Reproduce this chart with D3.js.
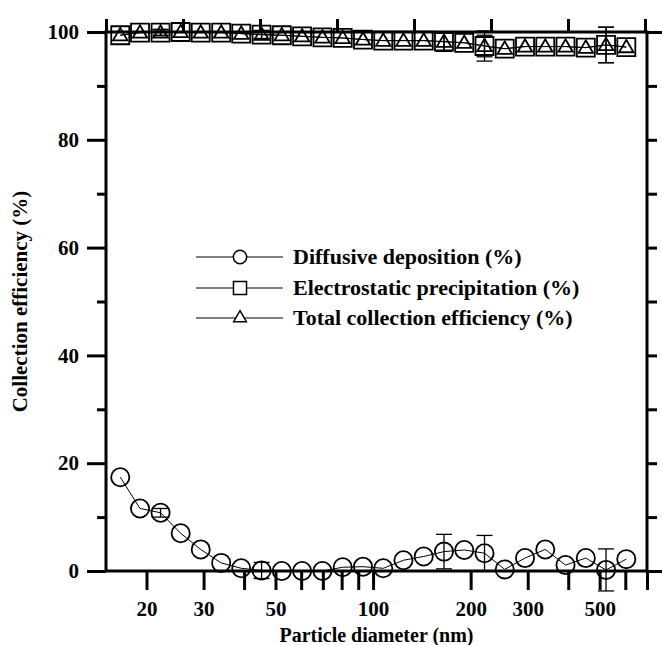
<!DOCTYPE html>
<html>
<head>
<meta charset="utf-8">
<script src="https://cdn.jsdelivr.net/npm/d3@7"></script>
<style>
  body { margin: 0; background: #ffffff; }
  svg { display: block; font-family: "Liberation Serif", "Times New Roman", serif; font-weight: bold; }
</style>
</head>
<body>
<div id="chart"></div>
<script>
// particle diameters (nm), one per size channel
const diameters = [16.6, 19.1, 22.1, 25.5, 29.4, 34.0, 39.2, 45.3, 52.3, 60.4, 69.8, 80.6, 93.1,
  107.5, 124.1, 143.3, 165.5, 191.1, 220.7, 254.8, 294.3, 339.8, 392.4, 453.2, 523.3, 604.3];

const diffusive = [17.4, 11.6, 10.8, 7.0, 4.0, 1.5, 0.5, 0.1, 0.0, 0.0, 0.0, 0.7, 0.8,
  0.5, 2.0, 2.7, 3.6, 3.9, 3.3, 0.3, 2.4, 4.0, 1.1, 2.4, 0.2, 2.2];
const diffusiveErr = [0, 0, 0.8, 0, 0, 0, 0, 1.5, 0, 0, 0, 0, 0,
  0, 0, 0, 3.2, 0, 3.3, 0, 0, 0, 0, 0, 3.9, 0];

const electrostatic = [99.4, 99.9, 99.9, 100.0, 99.9, 99.9, 99.7, 99.5, 99.4, 99.2, 99.0, 98.9, 98.6,
  98.4, 98.4, 98.4, 98.2, 98.0, 97.4, 96.9, 97.3, 97.3, 97.3, 97.1, 97.6, 97.2];
const electrostaticErr = [0, 0, 0.6, 0, 0, 0, 0, 0.8, 0, 0, 0, 0, 0,
  0, 0, 0, 1.8, 0, 2.8, 0, 0, 0, 0, 0, 3.3, 0];

const total = [99.4, 99.9, 99.9, 100.0, 99.9, 99.9, 99.7, 99.5, 99.4, 99.2, 99.0, 98.9, 98.6,
  98.4, 98.4, 98.4, 98.2, 98.0, 97.4, 96.9, 97.3, 97.3, 97.3, 97.1, 97.6, 97.2];
const totalErr = [0, 0, 0.5, 0, 0, 0, 0, 0.7, 0, 0, 0, 0, 0,
  0, 0, 0, 1.6, 0, 2.0, 0, 0, 0, 0, 0, 3.3, 0];

const seriesNames = ["Diffusive deposition (%)", "Electrostatic precipitation (%)", "Total collection efficiency (%)"];

const xTicks = [20, 30, 40, 50, 60, 70, 80, 90, 100, 200, 300, 400, 500, 600, 700];
const xTickLabels = [20, 30, 50, 100, 200, 300, 500];
const yTicks = [0, 10, 20, 30, 40, 50, 60, 70, 80, 90, 100];
const yTickLabels = [0, 20, 40, 60, 80, 100];

const width = 662;
const height = 645;
const margin = { top: 32, right: 15, bottom: 74, left: 106 };

const svg = d3.select("#chart")
  .append("svg")
  .attr("width", width)
  .attr("height", height);

const x = d3.scaleLog()
  .domain([15, 700])
  .range([margin.left, width - margin.right]);

const y = d3.scaleLinear()
  .domain([0, 100])
  .range([height - margin.bottom, margin.top]);

const x0 = x.range()[0], x1 = x.range()[1];
const y0 = y.range()[0], y1 = y.range()[1];

// axes, thick Origin style
const styleAxis = (g) => {
  g.select(".domain").remove();
  g.selectAll(".tick line").attr("stroke", "#000").attr("stroke-width", 3);
  g.selectAll(".tick text")
    .attr("fill", "#000")
    .style("font-size", "21px")
    .style("font-weight", "bold")
    .style("font-family", "'Liberation Serif', 'Times New Roman', serif");
};

const bottomAxis = svg.append("g")
  .attr("transform", `translate(0,${y0})`)
  .call(d3.axisBottom(x)
    .tickValues(xTicks)
    .tickSize(19)
    .tickPadding(11)
    .tickFormat((d) => (xTickLabels.includes(d) ? d : "")));
styleAxis(bottomAxis);

// top axis: plain linear ticks, no labels
const xTop = d3.scaleLinear().domain([0, 7]).range([x0, x1 - 2]);
const topAxis = svg.append("g")
  .attr("transform", `translate(0,${y1})`)
  .call(d3.axisTop(xTop).ticks(7).tickSize(13).tickFormat(""));
styleAxis(topAxis);

const leftAxis = svg.append("g")
  .attr("transform", `translate(${x0},0)`)
  .call(d3.axisLeft(y)
    .tickValues(yTicks)
    .tickSize(19)
    .tickPadding(8)
    .tickFormat((d) => (yTickLabels.includes(d) ? d : "")));
styleAxis(leftAxis);
leftAxis.selectAll(".tick")
  .filter((d) => !yTickLabels.includes(d))
  .select("line")
  .attr("x2", -9);

const rightAxis = svg.append("g")
  .attr("transform", `translate(${x1},0)`)
  .call(d3.axisRight(y).tickValues(yTicks).tickSize(10).tickFormat(""));
styleAxis(rightAxis);
rightAxis.selectAll(".tick")
  .filter((d) => d === 0 || d === 100)
  .select("line")
  .attr("x2", 16);

// frame
svg.append("rect")
  .attr("x", x0)
  .attr("y", y1)
  .attr("width", x1 - x0)
  .attr("height", y0 - y1)
  .attr("fill", "none")
  .attr("stroke", "#000")
  .attr("stroke-width", 3);

// axis titles
svg.append("text")
  .attr("x", (x0 + x1) / 2)
  .attr("y", 642)
  .attr("text-anchor", "middle")
  .style("font-size", "20px")
  .text("Particle diameter (nm)");

svg.append("text")
  .attr("transform", `translate(27,${(y0 + y1) / 2}) rotate(-90)`)
  .attr("text-anchor", "middle")
  .style("font-size", "21px")
  .text("Collection efficiency (%)");

const series = [
  { name: seriesNames[0], values: diffusive, errors: diffusiveErr, symbol: d3.symbolCircle, size: 260, legendSize: 140 },
  { name: seriesNames[1], values: electrostatic, errors: electrostaticErr, symbol: d3.symbolSquare, size: 324, legendSize: 170 },
  { name: seriesNames[2], values: total, errors: totalErr, symbol: d3.symbolTriangle, size: 90, legendSize: 70 },
];

const line = d3.line()
  .x((d) => x(d[0]))
  .y((d) => y(d[1]));

const plot = svg.append("g");

series.forEach((s) => {
  const pts = diameters.map((d, i) => [d, s.values[i], s.errors[i]]);

  plot.append("path")
    .datum(pts)
    .attr("d", line)
    .attr("fill", "none")
    .attr("stroke", "#000")
    .attr("stroke-width", 1);

  const bars = plot.selectAll(null)
    .data(pts.filter((p) => p[2] > 0))
    .enter()
    .append("g")
    .attr("stroke", "#000")
    .attr("stroke-width", 1.3);

  bars.append("line")
    .attr("x1", (p) => x(p[0]))
    .attr("x2", (p) => x(p[0]))
    .attr("y1", (p) => y(p[1] - p[2]))
    .attr("y2", (p) => y(p[1] + p[2]));

  [-1, 1].forEach((sgn) => {
    bars.append("line")
      .attr("x1", (p) => x(p[0]) - 8)
      .attr("x2", (p) => x(p[0]) + 8)
      .attr("y1", (p) => y(p[1] + sgn * p[2]))
      .attr("y2", (p) => y(p[1] + sgn * p[2]));
  });

  plot.selectAll(null)
    .data(pts)
    .enter()
    .append("path")
    .attr("d", d3.symbol().type(s.symbol).size(s.size))
    .attr("transform", (p) => `translate(${x(p[0])},${y(p[1]) + (s.symbol === d3.symbolTriangle ? 1 : 0)})`)
    .attr("fill", "none")
    .attr("stroke", "#000")
    .attr("stroke-width", 1.8);
});

// legend
const legend = svg.append("g");
const legendRows = [257, 288, 318];

series.forEach((s, i) => {
  const row = legend.append("g").attr("transform", `translate(0,${legendRows[i]})`);
  row.append("line")
    .attr("x1", 196)
    .attr("x2", 283)
    .attr("stroke", "#000")
    .attr("stroke-width", 1);
  row.append("path")
    .attr("d", d3.symbol().type(s.symbol).size(s.legendSize))
    .attr("transform", "translate(240,0)")
    .attr("fill", "#fff")
    .attr("stroke", "#000")
    .attr("stroke-width", 1.5);
  row.append("text")
    .attr("x", 293)
    .attr("y", 7)
    .style("font-size", "22px")
    .text(s.name);
});
</script>
</body>
</html>
